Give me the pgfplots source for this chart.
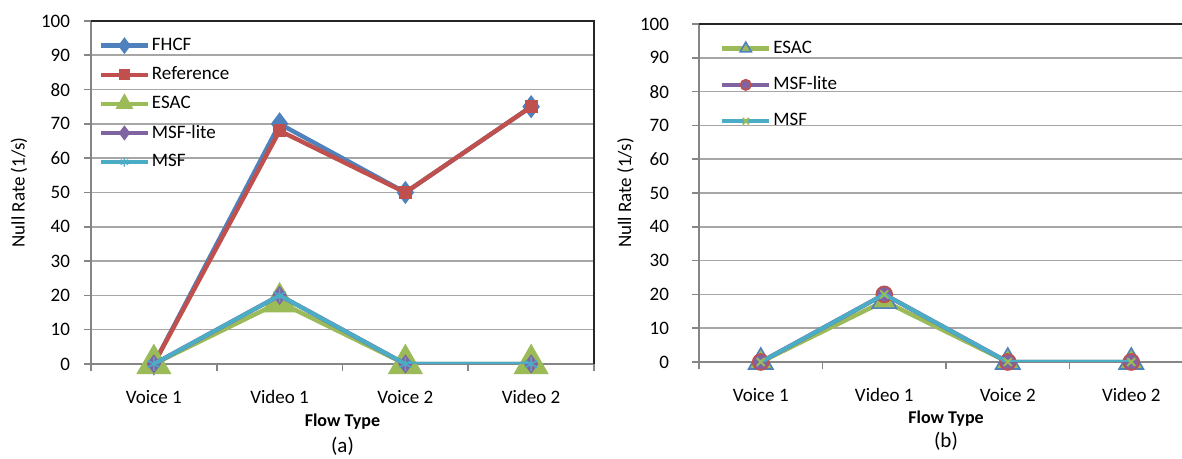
\documentclass[border=0pt]{standalone}
\usepackage{pgfplots}
\pgfplotsset{compat=1.18}
\usepackage{fontspec}
\setmainfont{Carlito}
\definecolor{cBlue}{HTML}{4F81BD}
\definecolor{cRed}{HTML}{C0504D}
\definecolor{cGreen}{HTML}{9BBB59}
\definecolor{cPurple}{HTML}{8064A2}
\definecolor{cCyan}{HTML}{4BACC6}
\definecolor{axgray}{HTML}{868686}
\definecolor{gridgray}{HTML}{A6A6A6}

\pgfplotsset{
  chartbase/.style={
    scale only axis,
    clip mode=individual,
    xmin=-0.5, xmax=3.5, ymin=0, ymax=100,
    ytick={0,10,...,100},
    xtick={-0.5,0.5,1.5,2.5,3.5},
    x tick label as interval,
    xticklabels={Voice 1,Video 1,Voice 2,Video 2},
    axis x line*=bottom, axis y line*=left,
    axis line style={draw=axgray, line width=0.8pt},
    ymajorgrids, grid style={draw=gridgray, line width=0.8pt},
    tick style={draw=axgray, line width=0.8pt},
    tick align=outside, major tick length=3.5pt,
    tick label style={font=\fontsize{9.5}{11}\selectfont, text=black},
    xticklabel style={yshift=-6pt},
    yticklabel style={xshift=-3.5pt},
    /pgf/number format/assume math mode=true,
    xlabel={\textbf{Flow Type}},
    xlabel style={font=\fontsize{9}{11}\selectfont, at={(axis description cs:0.5,-0.168)}, anchor=center},
    ylabel={Null Rate (1/s)},
    ylabel style={font=\fontsize{9.5}{11}\selectfont, anchor=center},
    legend cell align=left,
    legend style={draw=none, fill=none, font=\fontsize{9.5}{11}\selectfont,
      /tikz/every odd column/.append style={column sep=-1pt}},
    legend image code/.code={\draw[mark repeat=2,mark phase=2,#1] plot coordinates {(0cm,0cm) (0.41cm,0cm) (0.82cm,0cm)};},
  }
}

\begin{document}
\begin{tikzpicture}
\path[use as bounding box] (0,0) rectangle (591pt,229.5pt);

% Panel (a)
\begin{axis}[chartbase,
  at={(45.5pt,47.5pt)}, anchor=south west,
  width=251.5pt, height=171.5pt,
  ylabel style={at={(axis description cs:-0.143,0.5)}},
  legend style={at={(axis description cs:0.003,0.975)}, anchor=north west, row sep=2.7pt},
]
\addplot[cBlue, line width=2.2pt, mark=diamond*, mark size=4pt, mark options={solid, fill=cBlue},
  legend image post style={mark size=2.4pt}]
  coordinates {(0,0) (1,70) (2,50) (3,75)};
\addlegendentry{FHCF}
\addplot[cRed, line width=2.2pt, mark=square*, mark size=2.2pt, mark options={solid, fill=cRed},
  legend image post style={mark size=1.7pt}]
  coordinates {(0,0) (1,68) (2,50) (3,75)};
\addlegendentry{Reference}
\addplot[cGreen, line width=2.2pt, mark=triangle*, mark size=8pt, mark options={solid, fill=cGreen},
  legend image post style={mark size=3pt}]
  coordinates {(0,0) (1,18) (2,0) (3,0)};
\addlegendentry{ESAC}
\addplot[cPurple, line width=2.2pt, mark=diamond*, mark size=3pt, mark options={solid, fill=cPurple},
  legend image post style={mark size=2pt}]
  coordinates {(0,0) (1,20) (2,0) (3,0)};
\addlegendentry{MSF-lite}
\addplot[cCyan, line width=2pt, mark=asterisk, mark size=3.5pt, mark options={solid, line width=0.8pt},
  legend image post style={mark size=2.2pt}]
  coordinates {(0,0) (1,20) (2,0) (3,0)};
\addlegendentry{MSF}
\draw[black!85, line width=0.8pt] (rel axis cs:0,1) -- (rel axis cs:1,1) -- (rel axis cs:1,0);
\node[font=\fontsize{10.5}{12}\selectfont] at (rel axis cs:0.5,-0.239) {(a)};
\end{axis}

% Panel (b)
\begin{axis}[chartbase,
  at={(349.5pt,48.5pt)}, anchor=south west,
  width=247pt, height=169pt,
  yticklabel style={xshift=-4.5pt},
  ylabel style={at={(axis description cs:-0.149,0.5)}},
  xlabel style={at={(axis description cs:0.5,-0.166)}},
  legend style={at={(axis description cs:0.03,0.975)}, anchor=north west, row sep=6.3pt},
]
\addplot[cGreen, line width=2.2pt, mark=triangle*, mark size=7pt, mark options={solid, fill=cGreen, draw=cBlue, line width=0.8pt},
  legend image post style={mark size=3.2pt}]
  coordinates {(0,0) (1,18) (2,0) (3,0)};
\addlegendentry{ESAC}
\addplot[cPurple, line width=2.2pt, mark=*, mark size=4pt, mark options={solid, fill=cPurple, draw=cRed, line width=0.8pt},
  legend image post style={mark size=2.6pt}]
  coordinates {(0,0) (1,20) (2,0) (3,0)};
\addlegendentry{MSF-lite}
\addplot[cCyan, line width=2pt, mark=x, mark size=2.8pt, mark options={solid, draw=cGreen, line width=0.9pt},
  legend image post style={mark size=2.2pt}]
  coordinates {(0,0) (1,20) (2,0) (3,0)};
\addlegendentry{MSF}
\draw[black!85, line width=0.8pt] (rel axis cs:0,1) -- (rel axis cs:1,1) -- (rel axis cs:1,0);
\node[font=\fontsize{10.5}{12}\selectfont] at (rel axis cs:0.5,-0.234) {(b)};
\end{axis}
\end{tikzpicture}
\end{document}
